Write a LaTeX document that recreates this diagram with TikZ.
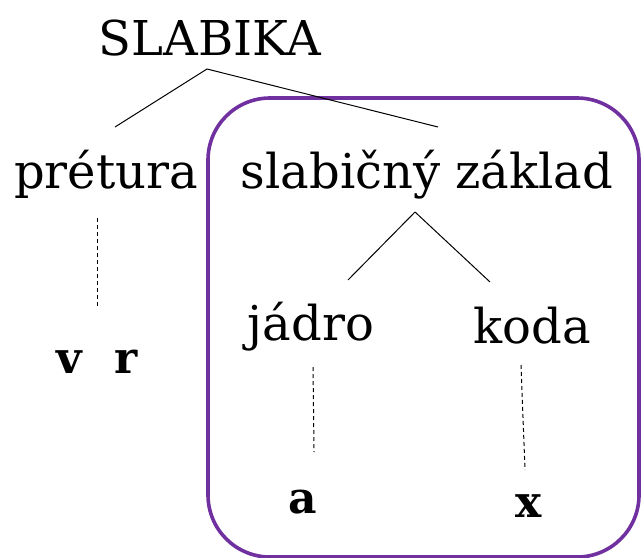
\documentclass[tikz,border=0pt]{standalone}
\usepackage{fontspec}
\setmainfont{DejaVu Serif}
\usetikzlibrary{calc}

\definecolor{frame}{RGB}{112,48,160}

\tikzset{
  word/.style={anchor=base,inner sep=0pt,font=\fontsize{24}{28}\selectfont},
  sound/.style={anchor=base,inner sep=0pt,font=\bfseries\fontsize{22}{26}\selectfont},
  branch/.style={line width=0.5pt},
  link/.style={line width=0.5pt,dash pattern=on 2pt off 1.5pt}
}

\begin{document}
\begin{tikzpicture}[x=0.5pt,y=-0.5pt]
  \useasboundingbox (0,0) rectangle (641,557);

  \draw[frame,line width=1.8pt,rounded corners=31pt] (208,98) rectangle (639,557);

  \node[word] (slabika) at (210,55) {SLABIKA};
  \node[word] (pretura) at (106,188) {prétura};
  \node[word] (zaklad) at (427,188) {slabičný základ};
  \node[word] (jadro) at (311,340) {jádro};
  \node[word] (koda) at (532,343) {koda};
  \node[sound] (vr) at (97,373) {v\hspace{0.75em}r};
  \node[sound] (a) at (303,513) {a};
  \node[sound] (x) at (529,517) {x};

  \draw[branch] ($(slabika.base)+(-3,14)$) -- ($(pretura.base)+(9,-61)$);
  \draw[branch] ($(slabika.base)+(-3,14)$) -- ($(zaklad.base)+(11,-61)$);
  \draw[branch] ($(zaklad.base)+(-12,24)$) -- ($(jadro.base)+(37,-60)$);
  \draw[branch] ($(zaklad.base)+(-12,24)$) -- ($(koda.base)+(-42,-61)$);

  \draw[link] ($(pretura.base)+(-9,30)$) -- ($(vr.base)+(0,-65)$);
  \draw[link] ($(jadro.base)+(2,27)$) -- ($(a.base)+(11,-61)$);
  \draw[link] ($(koda.base)+(-11,22)$) -- ($(x.base)+(-4,-47)$);
\end{tikzpicture}
\end{document}
